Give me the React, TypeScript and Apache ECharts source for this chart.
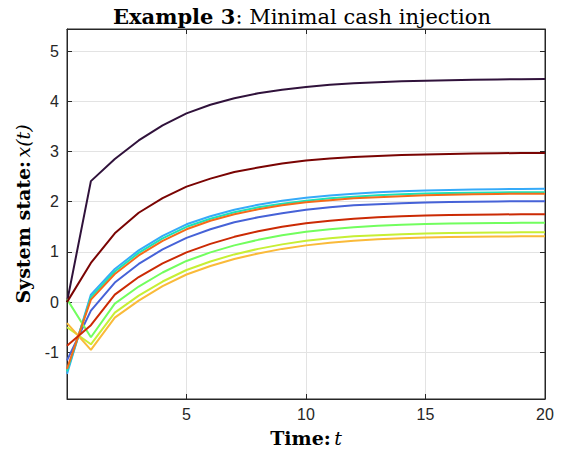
import React, { useEffect, useRef } from "react";
import * as echarts from "echarts";

const tValues = [0, 1, 2, 3, 4, 5, 6, 7, 8, 9, 10, 11, 12, 13, 14, 15, 16, 17, 18, 19, 20];

const s1 = [0, 2.41, 2.85, 3.22, 3.52, 3.76, 3.93, 4.06, 4.16, 4.23, 4.285, 4.33, 4.36, 4.38, 4.40, 4.41, 4.42, 4.43, 4.435, 4.44, 4.445];
const s2 = [-1.16, -0.17, 0.39, 0.76, 1.05, 1.28, 1.45, 1.59, 1.69, 1.77, 1.84, 1.89, 1.93, 1.95, 1.97, 1.985, 1.995, 2.0, 2.005, 2.01, 2.01];
const s3 = [-1.43, 0.15, 0.66, 1.03, 1.32, 1.55, 1.71, 1.84, 1.94, 2.02, 2.08, 2.125, 2.16, 2.19, 2.21, 2.225, 2.235, 2.245, 2.25, 2.255, 2.26];
const s4 = [-1.38, 0.10, 0.61, 0.98, 1.27, 1.50, 1.66, 1.79, 1.89, 1.96, 2.02, 2.07, 2.10, 2.13, 2.15, 2.165, 2.175, 2.18, 2.185, 2.19, 2.19];
const s5 = [0.06, -0.70, -0.03, 0.31, 0.59, 0.82, 0.99, 1.13, 1.24, 1.33, 1.40, 1.45, 1.49, 1.52, 1.54, 1.555, 1.565, 1.57, 1.575, 1.58, 1.58];
const s6 = [-0.50, -0.84, -0.21, 0.13, 0.41, 0.64, 0.81, 0.95, 1.06, 1.15, 1.22, 1.27, 1.31, 1.33, 1.35, 1.365, 1.375, 1.38, 1.385, 1.39, 1.39];
const s7 = [-0.42, -0.95, -0.31, 0.03, 0.32, 0.55, 0.72, 0.86, 0.97, 1.06, 1.13, 1.18, 1.22, 1.25, 1.27, 1.285, 1.295, 1.30, 1.305, 1.31, 1.31];
const s8 = [-1.33, 0.05, 0.56, 0.93, 1.22, 1.45, 1.62, 1.75, 1.85, 1.93, 1.99, 2.03, 2.07, 2.09, 2.11, 2.13, 2.14, 2.15, 2.155, 2.16, 2.16];
const s9 = [-0.87, -0.46, 0.15, 0.50, 0.77, 0.99, 1.16, 1.30, 1.41, 1.50, 1.57, 1.62, 1.66, 1.69, 1.71, 1.725, 1.735, 1.74, 1.745, 1.75, 1.75];
const s10 = [0, 0.78, 1.37, 1.78, 2.07, 2.30, 2.46, 2.59, 2.68, 2.76, 2.82, 2.86, 2.89, 2.91, 2.93, 2.94, 2.95, 2.96, 2.965, 2.97, 2.97];

const seriesValues = [s1, s2, s3, s4, s5, s6, s7, s8, s9, s10];
const seriesColors = ["#30123B", "#4662D7", "#36AAF9", "#1AE4B6", "#72FE5E", "#C7EF34", "#FABA39", "#F66B19", "#CB2A04", "#7A0403"];

const xTicks = [5, 10, 15, 20];
const yTicks = [-1, 0, 1, 2, 3, 4, 5];

const titleBold = "Example 3";
const titleRest = ": Minimal cash injection";
const xNameBold = "Time:";
const xNameItalic = "t";
const yNameBold = "System state:";
const yNameItalic = "x(t)";

const AXIS = "#262626";
const GRID = "#e3e3e3";
const SERIF = "'DejaVu Serif', 'Liberation Serif', serif";
const SANS = "'Liberation Sans', Arial, Helvetica, sans-serif";

export default function App() {
  const ref = useRef<HTMLDivElement>(null);
  useEffect(() => {
    if (!ref.current) return;
    const chart = echarts.init(ref.current, undefined, { renderer: "svg" });
    const xMin = 0, xMax = 20, yMin = -1.93, yMax = 5.44;
    const tickStyle = { show: true, inside: true, length: 5, lineStyle: { color: AXIS } };
    const nameRich = {
      b: { fontFamily: SERIF, fontWeight: "bold", fontSize: 19, color: "#000" },
      i: { fontFamily: SERIF, fontStyle: "italic", fontSize: 19, color: "#000" },
    };
    chart.setOption({
      animation: false,
      backgroundColor: "#ffffff",
      title: {
        text: `{b|${titleBold}}{n|${titleRest}}`,
        left: 297,
        textAlign: "center",
        top: 1,
        textStyle: {
          rich: {
            b: { fontFamily: SERIF, fontWeight: "bold", fontSize: 21, color: "#000" },
            n: { fontFamily: SERIF, fontWeight: "normal", fontSize: 21, color: "#000" },
          },
        },
      },
      grid: {
        left: 67,
        right: 22,
        top: 29,
        bottom: 59,
        show: true,
        borderColor: AXIS,
        borderWidth: 1,
        backgroundColor: "transparent",
      },
      xAxis: [
        {
          type: "value",
          min: xMin,
          max: xMax,
          position: "bottom",
          axisLine: { show: true, onZero: false, lineStyle: { color: AXIS, width: 1 } },
          axisTick: { ...tickStyle, customValues: xTicks },
          axisLabel: { customValues: xTicks, color: AXIS, fontSize: 16, fontFamily: SANS, margin: 7 },
          splitLine: { show: true, lineStyle: { color: GRID, width: 1 } },
          name: `{b|${xNameBold}} {i|${xNameItalic}}`,
          nameLocation: "middle",
          nameGap: 29,
          nameTextStyle: { rich: nameRich },
        },
        {
          type: "value",
          min: xMin,
          max: xMax,
          position: "top",
          axisLine: { show: true, onZero: false, lineStyle: { color: AXIS, width: 1 } },
          axisTick: { ...tickStyle, customValues: xTicks },
          axisLabel: { show: false },
          splitLine: { show: false },
        },
      ],
      yAxis: [
        {
          type: "value",
          min: yMin,
          max: yMax,
          position: "left",
          axisLine: { show: true, onZero: false, lineStyle: { color: AXIS, width: 1 } },
          axisTick: { ...tickStyle, customValues: yTicks },
          axisLabel: { customValues: yTicks, color: AXIS, fontSize: 16, fontFamily: SANS, margin: 8 },
          splitLine: { show: true, lineStyle: { color: GRID, width: 1 } },
          name: `{b|${yNameBold}} {i|${yNameItalic}}`,
          nameLocation: "middle",
          nameGap: 35,
          nameTextStyle: { rich: nameRich },
        },
        {
          type: "value",
          min: yMin,
          max: yMax,
          position: "right",
          axisLine: { show: true, onZero: false, lineStyle: { color: AXIS, width: 1 } },
          axisTick: { ...tickStyle, customValues: yTicks },
          axisLabel: { show: false },
          splitLine: { show: false },
        },
      ],
      series: seriesValues.map((vals, i) => ({
        type: "line",
        xAxisIndex: 0,
        yAxisIndex: 0,
        data: tValues.map((t, j) => [t, vals[j]]),
        showSymbol: false,
        symbol: "none",
        lineStyle: { color: seriesColors[i], width: 2 },
        itemStyle: { color: seriesColors[i] },
        z: 2 + i,
      })),
    });
    return () => chart.dispose();
  }, []);
  return <div ref={ref} style={{ width: 567, height: 458, position: "absolute", left: 0, top: 0 }} />;
}
